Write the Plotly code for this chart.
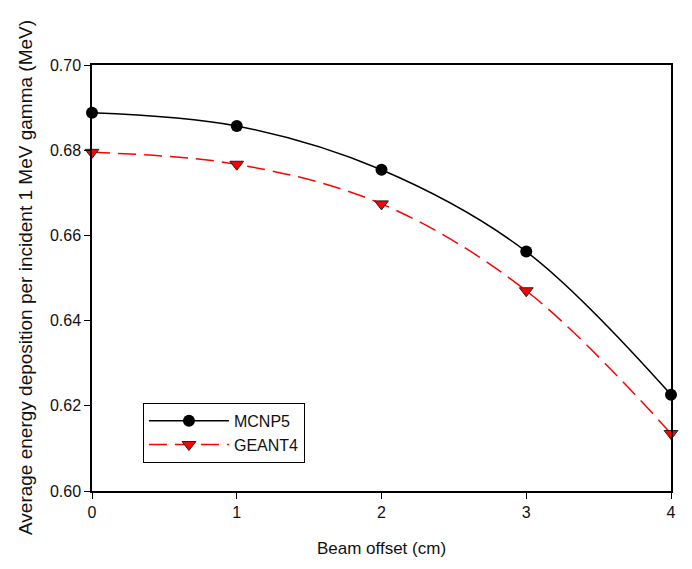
import plotly.graph_objects as go

offsets = [0, 1, 2, 3, 4]
mcnp5 = [0.6888, 0.6857, 0.6754, 0.6562, 0.6226]
geant4 = [0.6795, 0.6767, 0.6674, 0.6470, 0.6135]

fig = go.Figure()
fig.add_trace(go.Scatter(
    x=offsets, y=mcnp5, name="MCNP5", mode="lines+markers",
    line=dict(color="black", width=1.5, shape="spline", smoothing=1.0),
    marker=dict(symbol="circle", size=12, color="black"),
    cliponaxis=False,
))
fig.add_trace(go.Scatter(
    x=offsets, y=geant4, name="GEANT4", mode="lines+markers",
    line=dict(color="red", width=1.5, dash="18px,8px", shape="spline", smoothing=1.0),
    marker=dict(symbol="triangle-down", size=12, color="red",
                line=dict(color="#222222", width=1)),
    cliponaxis=False,
))

font = "Arial, Liberation Sans, sans-serif"
fig.update_layout(
    width=692, height=569,
    margin=dict(l=84, r=29, t=57, b=86),
    paper_bgcolor="white", plot_bgcolor="white",
    font=dict(family=font, color="#111111", size=16),
    showlegend=True,
    legend=dict(
        x=0.088, y=0.207, xanchor="left", yanchor="top",
        bordercolor="black", borderwidth=1, bgcolor="white",
        font=dict(size=16), itemwidth=80, tracegroupgap=0,
    ),
    xaxis=dict(
        range=[0, 4], tickvals=[0, 1, 2, 3, 4], ticktext=["0", "1", "2", "3", "4"],
        ticks="outside", ticklen=6, tickcolor="black", showline=True,
        linecolor="black", linewidth=1.5, mirror=True, showgrid=False,
        zeroline=False, tickfont=dict(size=16), automargin=False,
        title=dict(text="Beam offset (cm)", font=dict(size=17), standoff=22),
    ),
    yaxis=dict(
        range=[0.60, 0.70], tickvals=[0.60, 0.62, 0.64, 0.66, 0.68, 0.70],
        ticktext=["0.60", "0.62", "0.64", "0.66", "0.68", "0.70"],
        ticks="outside", ticklen=6, tickcolor="black", showline=True,
        linecolor="black", linewidth=1.5, mirror=True, showgrid=False,
        zeroline=False, tickfont=dict(size=16), automargin=False,
    ),
    annotations=[dict(
        text="Average energy deposition per incident 1 MeV gamma (MeV)",
        xref="paper", yref="paper", x=-0.1157, y=0.50,
        xanchor="center", yanchor="middle", textangle=-90, showarrow=False,
        font=dict(size=19, family=font, color="#111111"),
    )],
)

fig.write_html("out.html")
